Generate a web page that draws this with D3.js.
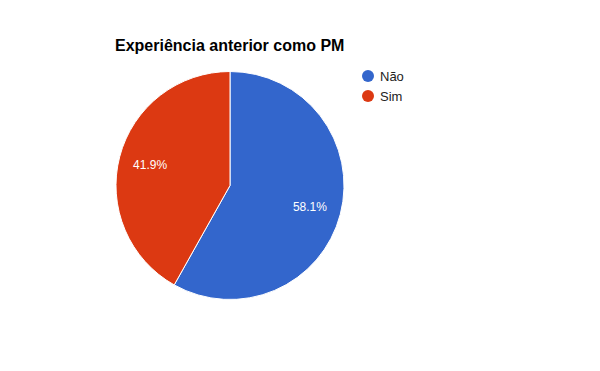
<!DOCTYPE html>
<html><head><meta charset="utf-8">
<script src="https://cdn.jsdelivr.net/npm/d3@7"></script>
<style>body{margin:0;background:#fff}svg{display:block}</style>
</head><body>
<script>
const categories = ["Não", "Sim"];
const values = [25, 18];
const colors = ["#3366cc", "#dc3912"];
const title = "Experiência anterior como PM";

const W = 600, H = 371;
const svg = d3.select("body").append("svg").attr("width", W).attr("height", H);
svg.append("rect").attr("width", W).attr("height", H).attr("fill", "#fff");

const cx = 230, cy = 185.5, r = 114;
const data = categories.map((c, i) => ({cat: c, v: values[i], color: colors[i]}));
const pie = d3.pie().value(d => d.v).sort(null);
const arcs = pie(data);
const arc = d3.arc().innerRadius(0).outerRadius(r);
const total = d3.sum(values);

const g = svg.append("g").attr("transform", `translate(${cx},${cy})`);
g.selectAll("path").data(arcs).join("path")
  .attr("d", arc).attr("fill", d => d.data.color)
  .attr("stroke", "#fff").attr("stroke-width", 1);

const labelArc = d3.arc().innerRadius(r * 0.725).outerRadius(r * 0.725);
g.selectAll("text.lbl").data(arcs).join("text")
  .attr("class", "lbl")
  .attr("x", d => labelArc.centroid(d)[0])
  .attr("y", d => labelArc.centroid(d)[1])
  .attr("dy", "0.4em")
  .attr("text-anchor", "middle")
  .attr("font-family", "Arial, 'Liberation Sans', sans-serif")
  .attr("font-size", 12).attr("fill", "#fff")
  .text(d => (d.data.v / total * 100).toFixed(1) + "%");

svg.append("text").attr("x", 115).attr("y", 51)
  .attr("font-family", "Arial, 'Liberation Sans', sans-serif")
  .attr("font-size", 16).attr("font-weight", "bold").attr("fill", "#000")
  .text(title);

const leg = svg.append("g");
data.forEach((d, i) => {
  const y = 76 + i * 20;
  leg.append("circle").attr("cx", 368).attr("cy", y).attr("r", 6).attr("fill", d.color);
  leg.append("text").attr("x", 380).attr("y", y).attr("dy", "0.36em")
    .attr("font-family", "Arial, 'Liberation Sans', sans-serif")
    .attr("font-size", 13).attr("fill", "#222").text(d.cat);
});
</script>
</body></html>
